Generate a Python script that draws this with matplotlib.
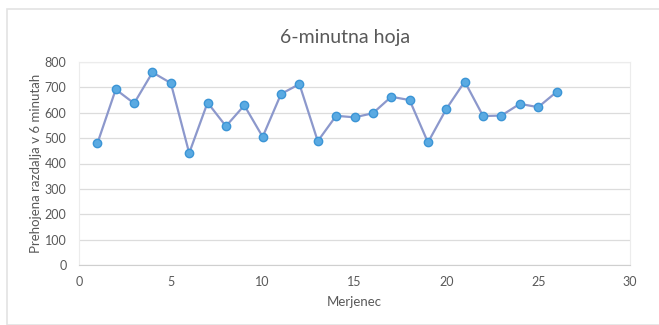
import matplotlib.pyplot as plt
from matplotlib.patches import Rectangle

# 6-minute walk distance per participant
merjenec = list(range(1, 27))
razdalja = [479, 692, 637, 759, 717, 441, 640, 547, 629, 505,
            674, 713, 488, 588, 582, 598, 663, 650, 483, 615,
            723, 587, 589, 635, 622, 682]

y_ticks = list(range(0, 801, 100))
x_ticks = list(range(0, 31, 5))

plt.rcParams['font.family'] = ['Lato', 'DejaVu Sans']
txt = '#595959'

fig = plt.figure(figsize=(6.59, 3.25), dpi=100)
ax = fig.add_axes([79 / 659, 1 - 265 / 325, (630 - 79) / 659, (265 - 62) / 325])

# outer chart border
fig.patches.append(Rectangle((7 / 659, 0.0), 1.2, 1 - 9 / 325, transform=fig.transFigure,
                             fill=False, edgecolor='#e3e3e3', linewidth=1.2))

ax.plot(merjenec, razdalja, color='#8c98cc', linewidth=1.6,
        marker='o', markersize=6, markerfacecolor='#5aaae2',
        markeredgecolor='#3b95d6', markeredgewidth=1.0, zorder=3)

ax.set_xlim(0, 30)
ax.set_ylim(0, 800)
ax.set_xticks(x_ticks)
ax.set_yticks(y_ticks)
ax.grid(axis='y', color='#dcdcdc', linewidth=0.9)
ax.set_axisbelow(True)

# faint plot-area frame, darker category axis
for s in ['top', 'right', 'left']:
    ax.spines[s].set_color('#ececec')
    ax.spines[s].set_linewidth(0.8)
ax.spines['bottom'].set_color('#cfcfcf')
ax.tick_params(axis='y', length=0, colors=txt, labelsize=9, pad=9)
ax.tick_params(axis='x', length=0, colors=txt, labelsize=9, pad=8)

fig.text(345 / 659, 1 - 38 / 325, '6-minutna hoja', color=txt, fontsize=14,
         ha='center', va='center')
ax.set_xlabel('Merjenec', color=txt, fontsize=9.5, labelpad=6)
ax.set_ylabel('Prehojena razdalja v 6 minutah', color=txt, fontsize=9.5, labelpad=2)

fig.savefig('out.png', dpi=100)
